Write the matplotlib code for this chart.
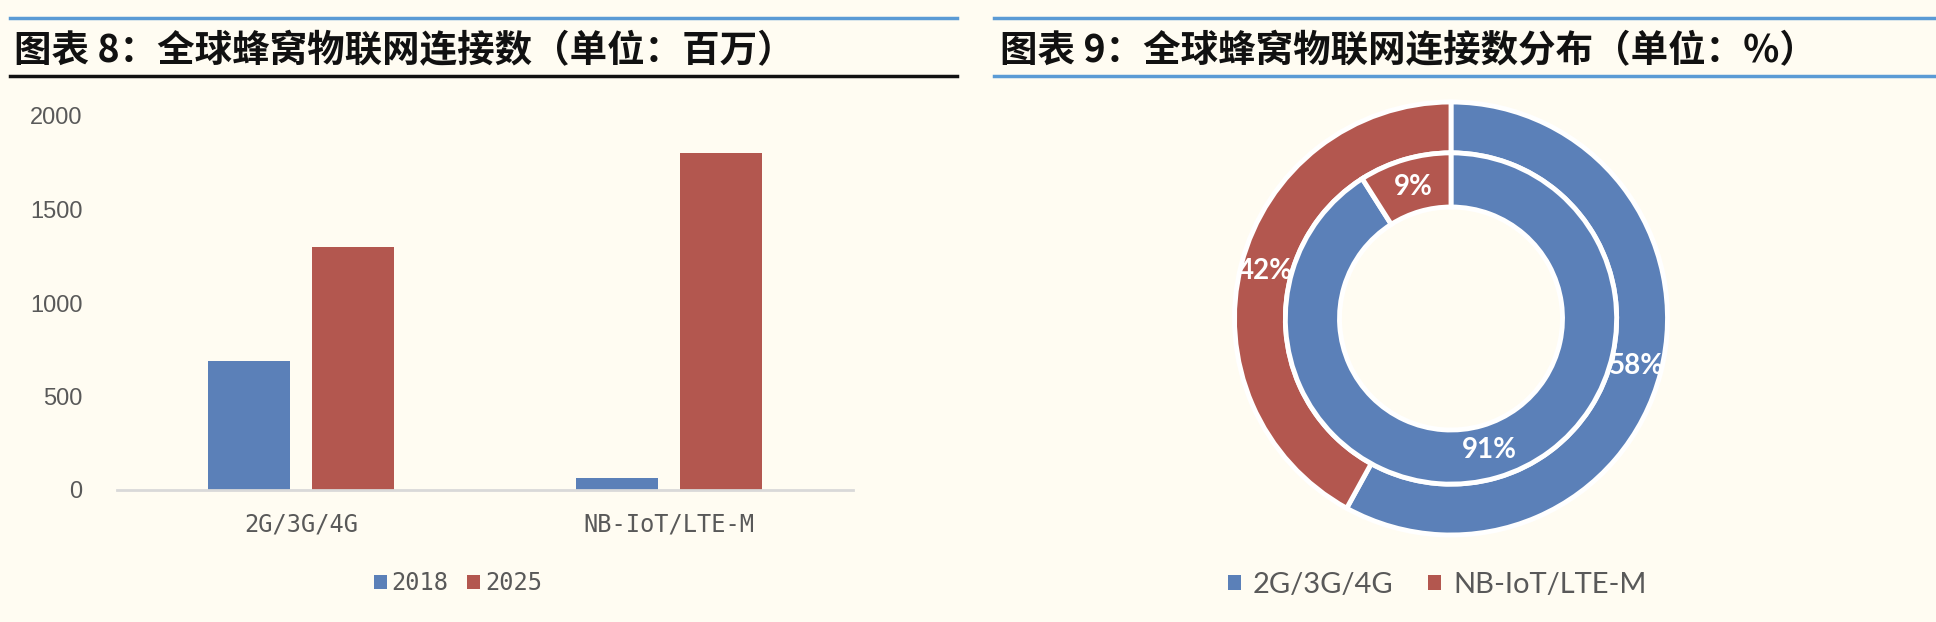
import numpy as np
import matplotlib
matplotlib.use('Agg')
import matplotlib.pyplot as plt
from matplotlib.patches import Patch
from matplotlib.lines import Line2D

plt.rcParams['font.family'] = ['Noto Sans CJK SC', 'DejaVu Sans']

# *****************************************************************************

BG = '#FFFCF2'
BLUE = '#5B80B8'
RED = '#B3574F'
GREY_TXT = '#595959'

# Figure 8 data
cats = ['2G/3G/4G', 'NB-IoT/LTE-M']
years = ['2018', '2025']
vals_2018 = [690, 65]
vals_2025 = [1300, 1800]
y_ticks = [0, 500, 1000, 1500, 2000]

# Figure 9 data
donut_labels = ['2G/3G/4G', 'NB-IoT/LTE-M']
outer_share = [58, 42]
inner_share = [91, 9]

title_l = '图表 8：全球蜂窝物联网连接数（单位：百万）'
title_r = '图表 9：全球蜂窝物联网连接数分布（单位：%）'

# *****************************************************************************

W, H = 1936, 622


def fx(px):
    return px/W


def fy(py):
    return 1 - py/H


def make_fig():

    fig = plt.figure(figsize=(W/100, H/100), dpi=100, facecolor=BG)

    # header lines
    for (x0, x1, y, col) in [(10, 957, 18, '#5B9BD5'), (10, 957, 76, '#111111'),
                             (994, 1936, 18, '#5B9BD5'), (994, 1936, 76, '#5B9BD5')]:
        fig.add_artist(Line2D([fx(x0), fx(x1)], [fy(y), fy(y)], color=col, lw=2.5,
                              transform=fig.transFigure))

    fig.text(fx(14), fy(51), title_l, fontsize=27, fontweight='bold', color='#111111',
             va='center', ha='left')
    fig.text(fx(1000), fy(51), title_r, fontsize=27, fontweight='bold', color='#111111',
             va='center', ha='left')

    # Figure 8 - bars
    axs01 = fig.add_axes([fx(117), fy(490), fx(853-117), (490-116)/H])
    axs01.set_facecolor(BG)
    xpos = np.arange(len(cats))
    bw = 0.223
    off = 0.141
    b1 = axs01.bar(xpos-off, vals_2018, width=bw, color=BLUE, label=years[0], zorder=2)
    b2 = axs01.bar(xpos+off, vals_2025, width=bw, color=RED, label=years[1], zorder=2)
    axs01.set_xlim(-0.5, 1.5)
    axs01.set_ylim(0, 2000)
    axs01.set_yticks(y_ticks)
    axs01.set_yticklabels([str(v) for v in y_ticks], fontsize=17, color=GREY_TXT,
                          family=['Liberation Sans', 'DejaVu Sans'])
    axs01.set_xticks(xpos)
    axs01.set_xticklabels(cats, fontsize=17, color=GREY_TXT, family=['DejaVu Sans Mono'])
    axs01.tick_params(axis='both', length=0)
    axs01.tick_params(axis='y', pad=25)
    axs01.tick_params(axis='x', pad=16)
    for sp in ['top', 'right', 'left']:
        axs01.spines[sp].set_visible(False)
    axs01.spines['bottom'].set_color('#D9D9D9')
    axs01.spines['bottom'].set_linewidth(2)

    fig.legend(handles=[b1, b2], labels=years, loc='center', bbox_to_anchor=(fx(458), fy(583)),
               ncol=2, frameon=False, prop={'family': 'DejaVu Sans Mono', 'size': 17},
               labelcolor=GREY_TXT, handlelength=0.55, handleheight=0.55,
               handletextpad=0.2, columnspacing=0.8)

    # Figure 9 - donut
    axs02 = fig.add_axes([fx(1451-216.5), fy(318.5+216.5), fx(433), 433/H])
    axs02.set_facecolor(BG)
    axs02.set_aspect('equal')
    wp = dict(edgecolor='white', linewidth=3.5)
    tp = dict(color='white', fontsize=20, fontweight='bold', family=['Lato', 'DejaVu Sans'])
    axs02.pie(outer_share, radius=1.0, colors=[BLUE, RED], startangle=90,
              counterclock=False, autopct=lambda p: '{:.0f}%'.format(p),
              pctdistance=0.885, wedgeprops=dict(width=0.235, **wp), textprops=tp)
    axs02.pie(inner_share, radius=0.765, colors=[BLUE, RED], startangle=90,
              counterclock=False, autopct=lambda p: '{:.0f}%'.format(p),
              pctdistance=0.825, wedgeprops=dict(width=0.25, **wp), textprops=tp)
    axs02.set_xlim(-1, 1)
    axs02.set_ylim(-1, 1)
    axs02.axis('off')

    hnd = [Patch(facecolor=BLUE), Patch(facecolor=RED)]
    fig.legend(handles=hnd, labels=donut_labels, loc='center', bbox_to_anchor=(fx(1437), fy(585)),
               ncol=2, frameon=False, prop={'family': 'Lato', 'size': 21},
               labelcolor=GREY_TXT, handlelength=0.45, handleheight=0.45,
               handletextpad=0.4, columnspacing=1.2)

    plt.savefig('out.png', dpi=100, facecolor=BG)
    plt.close()

    return None

# *****************************************************************************


if (__name__ == "__main__"):

    make_fig()
